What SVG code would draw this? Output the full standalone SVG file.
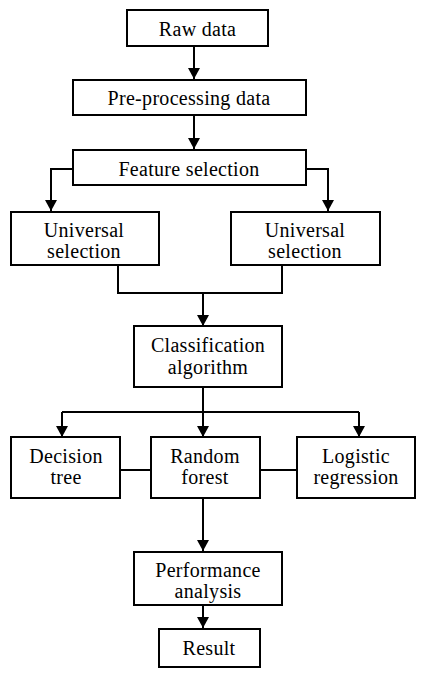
<svg xmlns="http://www.w3.org/2000/svg" width="427" height="675" viewBox="0 0 427 675">
<style>
.box{fill:#fff;stroke:#000;stroke-width:2}
.t{font-family:'Liberation Serif','DejaVu Serif',serif;font-size:20px;letter-spacing:0.3px;text-anchor:middle;fill:#000}
.c{fill:none;stroke:#000;stroke-width:2}
</style>
<defs>
<marker id="ah" markerUnits="userSpaceOnUse" markerWidth="12" markerHeight="12" refX="11" refY="6" orient="auto">
<path d="M0,0 L11,6 L0,12 z" fill="#000"/>
</marker>
</defs>
<rect width="427" height="675" fill="#fff"/>
<g id="connectors">
<path class="c" d="M194 46 V79" marker-end="url(#ah)"/>
<path class="c" d="M194 115 V149" marker-end="url(#ah)"/>
<path class="c" d="M73 169 H51 V211" marker-end="url(#ah)"/>
<path class="c" d="M306 169 H328 V211" marker-end="url(#ah)"/>
<path class="c" d="M118 265 V293 H282 V265"/>
<path class="c" d="M203 293 V326" marker-end="url(#ah)"/>
<path class="c" d="M203 387 V437" marker-end="url(#ah)"/>
<path class="c" d="M62 412 H359"/>
<path class="c" d="M62 412 V437" marker-end="url(#ah)"/>
<path class="c" d="M359 412 V437" marker-end="url(#ah)"/>
<path class="c" d="M120 470 H151"/>
<path class="c" d="M260 470 H297"/>
<path class="c" d="M203 498 V551" marker-end="url(#ah)"/>
<path class="c" d="M203 605 V628" marker-end="url(#ah)"/>
</g>
<g id="raw"><rect class="box" x="127" y="10" width="141" height="36"/><text class="t" font-family="Liberation Serif, serif" x="197.5" y="36">Raw data</text></g>
<g id="preprocessing"><rect class="box" x="73" y="80" width="233" height="35"/><text class="t" x="189" y="105">Pre-processing data</text></g>
<g id="feature"><rect class="box" x="73" y="150" width="233" height="35"/><text class="t" x="189" y="176">Feature selection</text></g>
<g id="univ-left"><rect class="box" x="11" y="212" width="148" height="53"/><text class="t" x="84" y="237">Universal</text><text class="t" x="84" y="258">selection</text></g>
<g id="univ-right"><rect class="box" x="231" y="212" width="149" height="53"/><text class="t" x="305" y="237">Universal</text><text class="t" x="305" y="258">selection</text></g>
<g id="classification"><rect class="box" x="134" y="326" width="148" height="61"/><text class="t" x="208" y="352">Classification</text><text class="t" x="208" y="374">algorithm</text></g>
<g id="decision"><rect class="box" x="11" y="437" width="109" height="61"/><text class="t" x="66" y="463">Decision</text><text class="t" x="66" y="484">tree</text></g>
<g id="random"><rect class="box" x="151" y="437" width="109" height="61"/><text class="t" x="205" y="463">Random</text><text class="t" x="205" y="484">forest</text></g>
<g id="logistic"><rect class="box" x="297" y="437" width="118" height="61"/><text class="t" x="356" y="463">Logistic</text><text class="t" x="356" y="484">regression</text></g>
<g id="performance"><rect class="box" x="134" y="552" width="148" height="53"/><text class="t" x="208" y="577">Performance</text><text class="t" x="208" y="598">analysis</text></g>
<g id="result"><rect class="box" x="159" y="629" width="101" height="38"/><text class="t" x="209" y="655">Result</text></g>
</svg>
